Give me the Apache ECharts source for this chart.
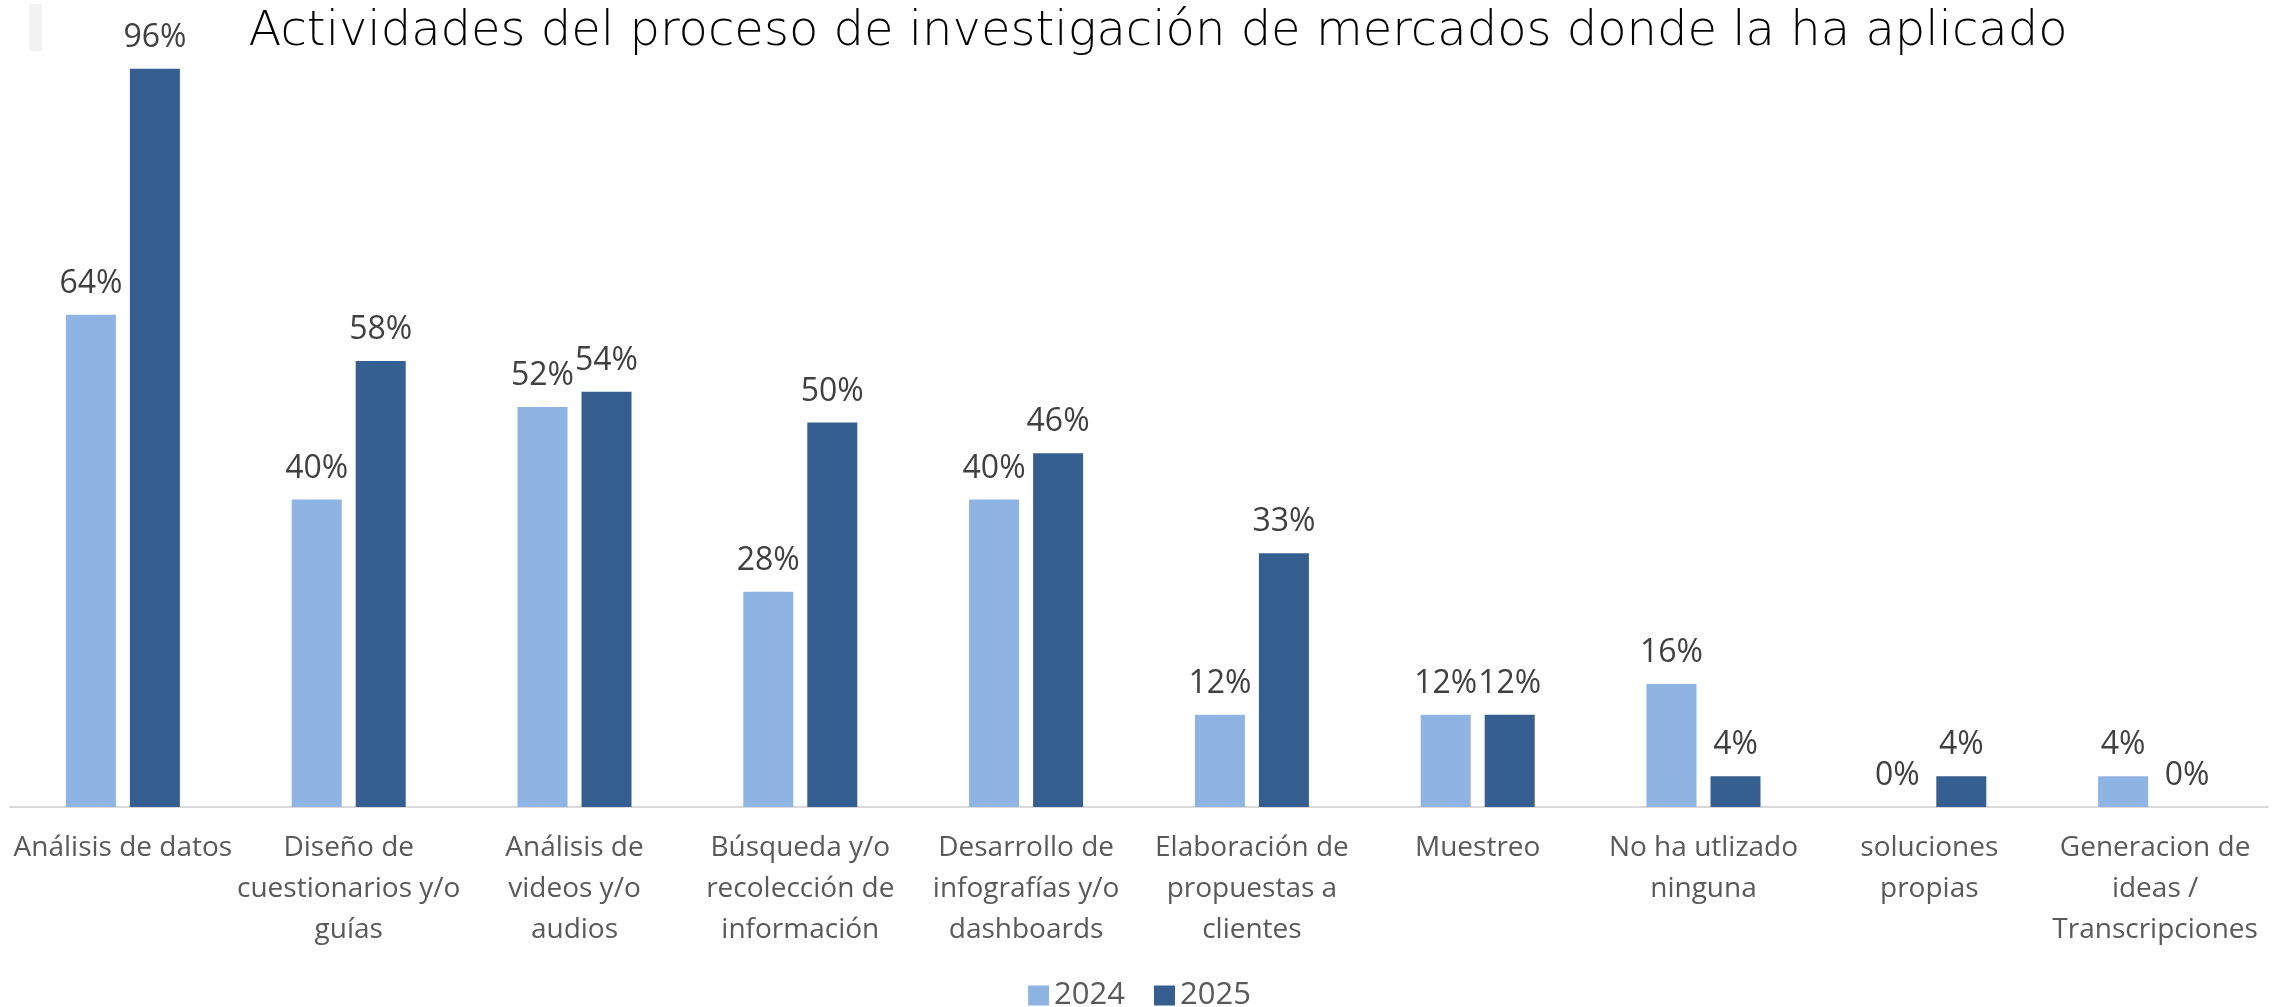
<!DOCTYPE html>
<html>
<head>
<meta charset="utf-8">
<script src="https://cdn.jsdelivr.net/npm/echarts@6/dist/echarts.min.js"></script>
<style>
html, body { margin: 0; padding: 0; background: #fff; }
#chart { width: 2279px; height: 1007px; }
</style>
</head>
<body>
<div id="chart"></div>
<script>
var categories = [
	'Análisis de datos',
	'Diseño de\ncuestionarios y/o\nguías',
	'Análisis de\nvideos y/o\naudios',
	'Búsqueda y/o\nrecolección de\ninformación',
	'Desarrollo de\ninfografías y/o\ndashboards',
	'Elaboración de\npropuestas a\nclientes',
	'Muestreo',
	'No ha utlizado\nninguna',
	'soluciones\npropias',
	'Generacion de\nideas /\nTranscripciones'
];
var values2024 = [64, 40, 52, 28, 40, 12, 12, 16, 0, 4];
var values2025 = [96, 58, 54, 50, 46, 33, 12, 4, 4, 0];

var chart = echarts.init(document.getElementById('chart'));

var labelStyle = {
	show: true,
	position: 'top',
	distance: 15,
	formatter: '{c}%',
	color: '#404040',
	fontSize: 32,
	fontFamily: 'Open Sans'
};

var option = {
	backgroundColor: '#ffffff',
	animation: false,
	title: {
		text: 'Actividades del proceso de investigación de mercados donde la ha aplicado',
		left: 1153,
		top: 4,
		textAlign: 'center',
		textStyle: {
			color: '#000000',
			fontSize: 48,
			fontWeight: 200,
			fontFamily: 'DejaVu Sans'
		}
	},
	graphic: [{
		type: 'rect',
		shape: { x: 29, y: 4, width: 13, height: 47 },
		style: { fill: '#f2f2f2' }
	}],
	legend: {
		data: ['2024', '2025'],
		left: 'center',
		top: 975,
		itemWidth: 21,
		itemHeight: 20,
		itemGap: 29,
		icon: 'rect',
		textStyle: {
			color: '#595959',
			fontSize: 31,
			fontFamily: 'Open Sans'
		}
	},
	grid: {
		left: 10,
		right: 11,
		top: 38,
		bottom: 200,
		containLabel: false
	},
	xAxis: {
		type: 'category',
		data: categories,
		axisTick: { show: false },
		axisLine: {
			show: true,
			lineStyle: { color: '#d9d9d9', width: 2 }
		},
		axisLabel: {
			interval: 0,
			margin: 21,
			color: '#595959',
			fontSize: 28,
			lineHeight: 41,
			fontFamily: 'Open Sans'
		}
	},
	yAxis: {
		type: 'value',
		min: 0,
		max: 100,
		show: false,
		splitLine: { show: false }
	},
	series: [{
		name: '2024',
		type: 'bar',
		barWidth: 50,
		barGap: '28%',
		data: values2024,
		itemStyle: { color: '#8eb4e3' },
		label: labelStyle
	}, {
		name: '2025',
		type: 'bar',
		barWidth: 50,
		barGap: '28%',
		data: values2025,
		itemStyle: { color: '#355f91' },
		label: labelStyle
	}]
};
chart.setOption(option);
</script>
</body>
</html>
